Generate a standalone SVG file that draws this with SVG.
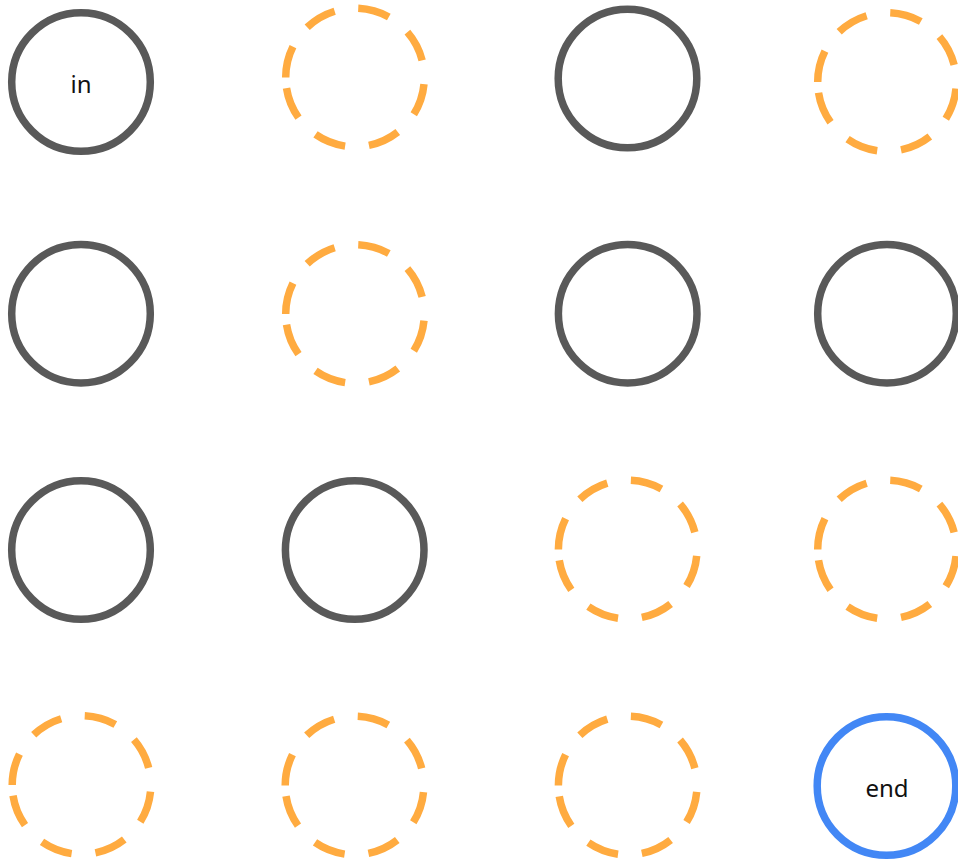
<svg xmlns="http://www.w3.org/2000/svg" width="958" height="861" viewBox="0 0 958 861">
<style>
.solid{fill:#ffffff;stroke:#595959;stroke-width:7.5}
.dash{fill:none;stroke:#ffab40;stroke-width:7.5;stroke-dasharray:32 24}
.end{fill:#ffffff;stroke:#4287f5;stroke-width:7.5}
.lbl{font-family:"Noto Sans","Open Sans","DejaVu Sans",sans-serif;font-size:24px;fill:#111111;text-anchor:middle}
</style>
<rect width="958" height="861" fill="#ffffff"/>
<g id="edges"></g>
<g id="nodes">
<g id="n_in"><circle class="solid" cx="81" cy="82" r="69.3"/><text class="lbl" x="81" y="92.5">in</text></g>
<g id="n_1_2"><path class="dash" d="M285.7 77.5a69.3 69.3 0 1 1 138.6 0a69.3 69.3 0 1 1 -138.6 0"/></g>
<g id="n_1_3"><circle class="solid" cx="627.5" cy="78.5" r="69.3"/></g>
<g id="n_1_4"><path class="dash" d="M817.7 82a69.3 69.3 0 1 1 138.6 0a69.3 69.3 0 1 1 -138.6 0"/></g>
<g id="n_2_1"><circle class="solid" cx="81" cy="313.7" r="69.3"/></g>
<g id="n_2_2"><path class="dash" d="M285.7 314a69.3 69.3 0 1 1 138.6 0a69.3 69.3 0 1 1 -138.6 0"/></g>
<g id="n_2_3"><circle class="solid" cx="627.7" cy="313.7" r="69.3"/></g>
<g id="n_2_4"><circle class="solid" cx="887" cy="313.7" r="69.3"/></g>
<g id="n_3_1"><circle class="solid" cx="81" cy="550" r="69.3"/></g>
<g id="n_3_2"><circle class="solid" cx="354.7" cy="550" r="69.3"/></g>
<g id="n_3_3"><path class="dash" d="M558.4 549.5a69.3 69.3 0 1 1 138.6 0a69.3 69.3 0 1 1 -138.6 0"/></g>
<g id="n_3_4"><path class="dash" d="M817.7 549.5a69.3 69.3 0 1 1 138.6 0a69.3 69.3 0 1 1 -138.6 0"/></g>
<g id="n_4_1"><path class="dash" d="M12.2 785a69.3 69.3 0 1 1 138.6 0a69.3 69.3 0 1 1 -138.6 0"/></g>
<g id="n_4_2"><path class="dash" d="M285.2 785.5a69.3 69.3 0 1 1 138.6 0a69.3 69.3 0 1 1 -138.6 0"/></g>
<g id="n_4_3"><path class="dash" d="M558.4 785.5a69.3 69.3 0 1 1 138.6 0a69.3 69.3 0 1 1 -138.6 0"/></g>
<g id="n_end"><circle class="end" cx="886.5" cy="786" r="69.3"/><text class="lbl" x="887" y="796.5">end</text></g>
</g>
</svg>
